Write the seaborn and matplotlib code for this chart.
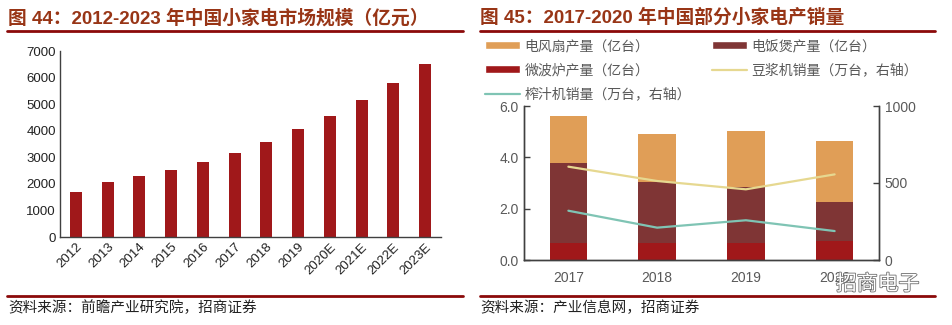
import numpy as np
import pandas as pd
import matplotlib
matplotlib.use("Agg")
import matplotlib.pyplot as plt
import seaborn as sns
from matplotlib.lines import Line2D
from matplotlib.patches import Patch
import matplotlib.patheffects as pe

# ---------------- data ----------------
years_l = ['2012', '2013', '2014', '2015', '2016', '2017', '2018', '2019',
           '2020E', '2021E', '2022E', '2023E']
market = [1705, 2058, 2284, 2534, 2835, 3174, 3575, 4052, 4554, 5156, 5808, 6500]

years_r = ['2017', '2018', '2019', '2020']
fan = [1.84, 1.87, 2.21, 2.39]       # 电风扇产量（亿台）
rice = [3.10, 2.38, 2.16, 1.51]      # 电饭煲产量（亿台）
micro = [0.67, 0.65, 0.67, 0.74]     # 微波炉产量（亿台）
soy = [606, 513, 459, 556]           # 豆浆机销量（万台，右轴）
juicer = [320, 210, 258, 188]        # 榨汁机销量（万台，右轴）

title_l = '图 44：2012-2023 年中国小家电市场规模（亿元）'
title_r = '图 45：2017-2020 年中国部分小家电产销量'
src_l = '资料来源：前瞻产业研究院，招商证券'
src_r = '资料来源：产业信息网，招商证券'
leg_labels = ['电风扇产量（亿台）', '电饭煲产量（亿台）', '微波炉产量（亿台）',
              '豆浆机销量（万台，右轴）', '榨汁机销量（万台，右轴）']

# ---------------- style ----------------
sns.set_theme(style='white')
plt.rcParams['font.family'] = ['Liberation Sans', 'Noto Sans CJK SC', 'DejaVu Sans']
plt.rcParams['axes.unicode_minus'] = False

C_BAR = '#A0181A'
C_FAN = '#E09E57'
C_RICE = '#7F3535'
C_MICRO = '#A0181A'
C_SOY = '#E6D890'
C_JUICE = '#7FC4B4'
C_TITLE = '#983516'
C_RULE = '#8B0A0A'
C_AX = '#404040'

W, H = 953, 325
fig = plt.figure(figsize=(W / 100, H / 100), dpi=100)


def fx(px):
    return px / W


def fy(py):
    return 1 - py / H


# ---------------- left chart ----------------
ax1 = fig.add_axes([fx(60), fy(237), fx(441) - fx(60), fy(51) - fy(237)])
sns.barplot(x=years_l, y=market, color=C_BAR, saturation=1, width=0.38, ax=ax1,
            linewidth=0, edgecolor='none')
ax1.set_xlim(-0.5, len(years_l) - 0.5)
ax1.set_ylim(0, 7000)
ax1.set_yticks(range(0, 7001, 1000))
ax1.tick_params(axis='y', direction='in', length=4, width=1, color=C_AX,
                labelsize=9.5, labelcolor='#222222', pad=3)
ax1.set_xticks(np.arange(-0.5, len(years_l), 1), minor=True)
ax1.tick_params(axis='x', which='minor', direction='in', length=4, width=1, color=C_AX)
ax1.tick_params(axis='x', which='major', length=0, labelsize=9.5, labelcolor='#222222', pad=3)
for lab in ax1.get_xticklabels():
    lab.set_rotation(45)
    lab.set_ha('right')
    lab.set_rotation_mode('anchor')
for s in ['top', 'right']:
    ax1.spines[s].set_visible(False)
for s in ['left', 'bottom']:
    ax1.spines[s].set_color(C_AX)
    ax1.spines[s].set_linewidth(1)
ax1.set_xlabel('')
ax1.set_ylabel('')

# ---------------- right chart ----------------
ax2 = fig.add_axes([fx(524), fy(260), fx(879) - fx(524), fy(106) - fy(260)])
total = [a + b + c for a, b, c in zip(fan, rice, micro)]
mid = [b + c for b, c in zip(rice, micro)]
for vals, col in [(total, C_FAN), (mid, C_RICE), (micro, C_MICRO)]:
    sns.barplot(x=years_r, y=vals, color=col, saturation=1, width=0.42, ax=ax2,
                linewidth=0, edgecolor='none')
ax2.set_ylim(0, 6)
ax2.set_yticks([0, 2, 4, 6])
ax2.set_yticklabels([f'{v:.1f}' for v in [0, 2, 4, 6]])
ax2.tick_params(axis='y', direction='in', length=4, width=1, color=C_AX,
                labelsize=10, labelcolor='#595959', pad=4)
ax2.set_xticks(np.arange(-0.5, len(years_r), 1), minor=True)
ax2.tick_params(axis='x', which='minor', direction='in', length=4, width=1, color=C_AX)
ax2.tick_params(axis='x', which='major', length=0, labelsize=10, labelcolor='#595959', pad=8)
ax2.set_xlabel('')
ax2.set_ylabel('')

ax2r = ax2.twinx()
xpos = np.arange(len(years_r))
sns.lineplot(x=xpos, y=soy, color=C_SOY, linewidth=1.6, ax=ax2r)
sns.lineplot(x=xpos, y=juicer, color=C_JUICE, linewidth=1.6, ax=ax2r)
ax2r.set_ylim(0, 1000)
ax2r.set_yticks([0, 500, 1000])
ax2r.tick_params(axis='y', direction='in', length=4, width=1, color=C_AX,
                 labelsize=10, labelcolor='#595959', pad=4)
ax2r.set_ylabel('')
ax2.set_xlim(-0.5, len(years_r) - 0.5)
for a in (ax2, ax2r):
    a.spines['top'].set_visible(False)
    for s in ['left', 'bottom', 'right']:
        a.spines[s].set_color(C_AX)
        a.spines[s].set_linewidth(1)

# legend
handles = [Patch(facecolor=C_FAN), Patch(facecolor=C_MICRO),
           Line2D([], [], color=C_JUICE, lw=1.6),
           Patch(facecolor=C_RICE), Line2D([], [], color=C_SOY, lw=1.6)]
labels = [leg_labels[0], leg_labels[2], leg_labels[4], leg_labels[1], leg_labels[3]]
fig.legend(handles, labels, loc='upper left', bbox_to_anchor=(fx(485), fy(39)),
           ncol=2, frameon=False, handlelength=2.5, handleheight=0.5,
           handletextpad=0.35, columnspacing=1.5, labelspacing=0.72,
           borderpad=0, borderaxespad=0, labelcolor='#595959',
           prop={'family': ['Noto Sans CJK SC'], 'size': 10})

# ---------------- titles, rules, sources ----------------
cjk = ['Liberation Sans', 'Noto Sans CJK SC']
fig.text(fx(8), fy(18), title_l, fontsize=13.5, fontweight='bold', color=C_TITLE,
         va='center', ha='left', family=cjk)
fig.text(fx(480), fy(18), title_r, fontsize=13.5, fontweight='bold', color=C_TITLE,
         va='center', ha='left', family=cjk)
for x0, x1 in [(7, 463), (480, 935)]:
    fig.add_artist(Line2D([fx(x0), fx(x1)], [fy(30.5), fy(30.5)], color=C_RULE, lw=2))
    fig.add_artist(Line2D([fx(x0), fx(x1)], [fy(296), fy(296)], color=C_RULE, lw=2))
fig.text(fx(8), fy(308), src_l, fontsize=10.5, color='#222222', va='center', ha='left',
         family=['Noto Sans CJK SC'])
fig.text(fx(480), fy(308), src_r, fontsize=10.5, color='#222222', va='center', ha='left',
         family=['Noto Sans CJK SC'])

# watermark
fig.text(fx(836), fy(284), '招商电子', fontsize=15, color='white', va='center', ha='left',
         family=['Noto Sans CJK SC'], zorder=10,
         path_effects=[pe.withStroke(linewidth=1.2, foreground='#6f6f6f')])

fig.savefig('out.png', dpi=100)
